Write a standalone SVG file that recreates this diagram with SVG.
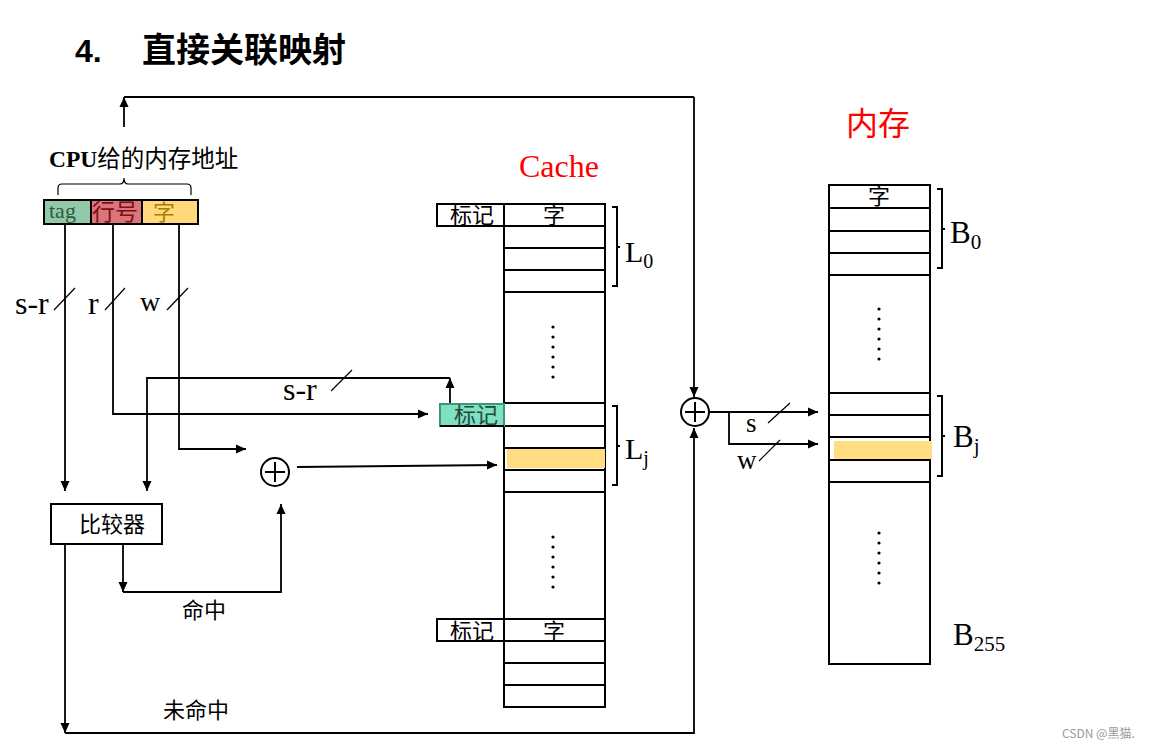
<svg xmlns="http://www.w3.org/2000/svg" width="1154" height="750" viewBox="0 0 1154 750">
<defs>
<marker id="ah" viewBox="0 0 10 10" refX="10" refY="5" markerWidth="10" markerHeight="10" markerUnits="userSpaceOnUse" orient="auto">
<path d="M0,0.5 L10,5 L0,9.5 z" fill="#000"/>
</marker>
<style>
.ln{fill:none;stroke:#000;stroke-width:2}
.ar{fill:none;stroke:#000;stroke-width:1.8;marker-end:url(#ah)}
.sl{fill:none;stroke:#000;stroke-width:1.2}
.box{fill:#fff;stroke:#000;stroke-width:2}
.s{font-family:"Liberation Serif","Noto Sans CJK SC",serif;fill:#000}
.cjk{font-family:"Liberation Serif","Noto Sans CJK SC",serif;fill:#000}
.dot{fill:#000}
</style>
</defs>
<rect width="1154" height="750" fill="#fff"/>

<g id="title">
<text x="75" y="62" font-family="Liberation Sans,Arial,sans-serif" font-weight="bold" font-size="32">4.</text>
<text x="142" y="62" font-family="'Noto Sans CJK SC',sans-serif" font-weight="bold" font-size="34">直接关联映射</text>
</g>

<g id="cpu-address">
<text x="49" y="167" class="cjk" font-size="23.5"><tspan font-weight="bold">CPU</tspan>给的内存地址</text>
<path class="sl" stroke-width="1.6" d="M58,195 V188 Q58,184 62,184 H120 Q124,184 124,178 Q124,184 128,184 H187 Q191,184 191,188 V195"/>
<rect x="44" y="200" width="47" height="24" fill="#93c9a9" stroke="#000" stroke-width="2"/>
<rect x="91" y="200" width="51" height="24" fill="#dc7479" stroke="#000" stroke-width="2"/>
<rect x="142" y="200" width="56" height="24" fill="#ffd97c" stroke="#000" stroke-width="2"/>
<text x="49" y="218" class="s" font-size="22" style="fill:#2e5a3e">tag</text>
<text x="92" y="220" class="cjk" font-size="23" style="fill:#7a1015">行号</text>
<text x="153" y="220" class="cjk" font-size="22" style="fill:#a88000">字</text>
</g>

<g id="comparator">
<rect x="51" y="504" width="111" height="40" class="box"/>
<text x="79" y="532" class="cjk" font-size="22">比较器</text>
</g>

<g id="adder1">
<circle cx="275" cy="472" r="14" class="box" stroke-width="1.8"/>
<path class="ln" stroke-width="1.8" d="M275,462 V482 M265,472 H285"/>
</g>

<g id="adder2">
<circle cx="695" cy="412" r="14" class="box" stroke-width="1.8"/>
<path class="ln" stroke-width="1.8" d="M695,402 V422 M685,412 H705"/>
</g>

<g id="cache">
<text x="519" y="177" class="s" font-size="32" style="fill:#ff0000">Cache</text>
<rect x="504" y="204" width="101" height="503" class="box"/>
<path class="ln" d="M504,226 H605 M504,248 H605 M504,270 H605 M504,292 H605 M504,403 H605 M504,426 H605 M504,448 H605 M504,470 H605 M504,492 H605 M504,619 H605 M504,641 H605 M504,663 H605 M504,685 H605"/>
<rect x="437" y="204" width="67" height="22" class="box"/>
<text x="450" y="223" class="cjk" font-size="22">标记</text>
<text x="554" y="223" text-anchor="middle" class="cjk" font-size="22">字</text>
<rect x="440" y="404" width="64" height="22" fill="#7fe0c4" stroke="#3a9a78" stroke-width="2"/>
<path class="ln" d="M440,426 H504"/>
<text x="454" y="423" class="cjk" font-size="22" style="fill:#1f4a3a">标记</text>
<rect x="507" y="449" width="98" height="19" fill="#ffdd80"/>
<rect x="437" y="619" width="67" height="22" class="box"/>
<text x="450" y="639" class="cjk" font-size="22">标记</text>
<text x="554" y="639" text-anchor="middle" class="cjk" font-size="22">字</text>
<g class="dot">
<circle cx="553" cy="327" r="1.6"/><circle cx="553" cy="337" r="1.6"/><circle cx="553" cy="347" r="1.6"/><circle cx="553" cy="357" r="1.6"/><circle cx="553" cy="367" r="1.6"/><circle cx="553" cy="377" r="1.6"/>
<circle cx="553" cy="537" r="1.6"/><circle cx="553" cy="547" r="1.6"/><circle cx="553" cy="557" r="1.6"/><circle cx="553" cy="567" r="1.6"/><circle cx="553" cy="577" r="1.6"/><circle cx="553" cy="587" r="1.6"/>
</g>
<path class="ln" stroke-width="1.8" d="M612,207 H617 V286 H612 M617,247 H620"/>
<text x="625" y="262" class="s" font-size="30">L<tspan font-size="20" dy="6">0</tspan></text>
<path class="ln" stroke-width="1.8" d="M612,406 H617 V485 H612 M617,446 H620"/>
<text x="625" y="459" class="s" font-size="30">L<tspan font-size="20" dy="6">j</tspan></text>
</g>

<g id="memory">
<text x="846" y="135" class="cjk" font-size="32" style="fill:#ff0000">内存</text>
<rect x="829" y="185" width="101" height="479" class="box"/>
<path class="ln" d="M829,208 H930 M829,231 H930 M829,253 H930 M829,275 H930 M829,393 H930 M829,415 H930 M829,437 H930 M829,460 H930 M829,482 H930"/>
<text x="879" y="204" text-anchor="middle" class="cjk" font-size="22">字</text>
<rect x="834" y="441" width="98" height="18" fill="#ffdd80"/>
<g class="dot">
<circle cx="879" cy="309" r="1.6"/><circle cx="879" cy="319" r="1.6"/><circle cx="879" cy="329" r="1.6"/><circle cx="879" cy="339" r="1.6"/><circle cx="879" cy="349" r="1.6"/><circle cx="879" cy="359" r="1.6"/>
<circle cx="879" cy="533" r="1.6"/><circle cx="879" cy="543" r="1.6"/><circle cx="879" cy="553" r="1.6"/><circle cx="879" cy="563" r="1.6"/><circle cx="879" cy="573" r="1.6"/><circle cx="879" cy="583" r="1.6"/>
</g>
<path class="ln" stroke-width="1.8" d="M937,189 H942 V268 H937 M942,229 H945"/>
<text x="950" y="243" class="s" font-size="31">B<tspan font-size="21" dy="6">0</tspan></text>
<path class="ln" stroke-width="1.8" d="M937,396 H942 V476 H937 M942,436 H945"/>
<text x="953" y="447" class="s" font-size="31">B<tspan font-size="21" dy="6">j</tspan></text>
<text x="953" y="645" class="s" font-size="31">B<tspan font-size="21" dy="6">255</tspan></text>
</g>

<g id="connectors">
<path class="ar" d="M124,127 V97"/>
<path class="ln" stroke-width="1.8" d="M124,97 H694"/>
<path class="ar" d="M694,97 V397"/>
<path class="ar" d="M65,224 V491"/>
<path class="ar" d="M113,224 V414 H428"/>
<path class="ar" d="M179,224 V449 H246"/>
<path class="ar" d="M450,403 V378"/>
<path class="ar" d="M450,378 H147 V491"/>
<path class="ar" d="M297,467 L497,465"/>
<path class="ar" d="M123,544 V592"/>
<path class="ar" d="M123,592 H281 V504"/>
<path class="ar" d="M65,544 V733"/>
<path class="ar" d="M65,733 H694 V428"/>
<path class="ar" d="M709,412 H818"/>
<path class="ar" d="M729,412 V444 H818"/>
<path class="sl" d="M54,310 L75,288 M105,310 L125,288 M167,310 L188,288 M331,391 L352,370 M768,423 L790,403 M759,461 L780,440"/>
<text x="15" y="314" class="s" font-size="32">s-r</text>
<text x="88" y="314" class="s" font-size="32">r</text>
<text x="140" y="311" class="s" font-size="28">w</text>
<text x="283" y="400" class="s" font-size="32">s-r</text>
<text x="746" y="432" class="s" font-size="27">s</text>
<text x="737" y="469" class="s" font-size="27">w</text>
<text x="182" y="618" class="cjk" font-size="22">命中</text>
<text x="163" y="718" class="cjk" font-size="22">未命中</text>
</g>

<text x="1062" y="738" font-family="'Noto Sans CJK SC',sans-serif" font-size="12" fill="#999">CSDN @黑猫.</text>
</svg>
